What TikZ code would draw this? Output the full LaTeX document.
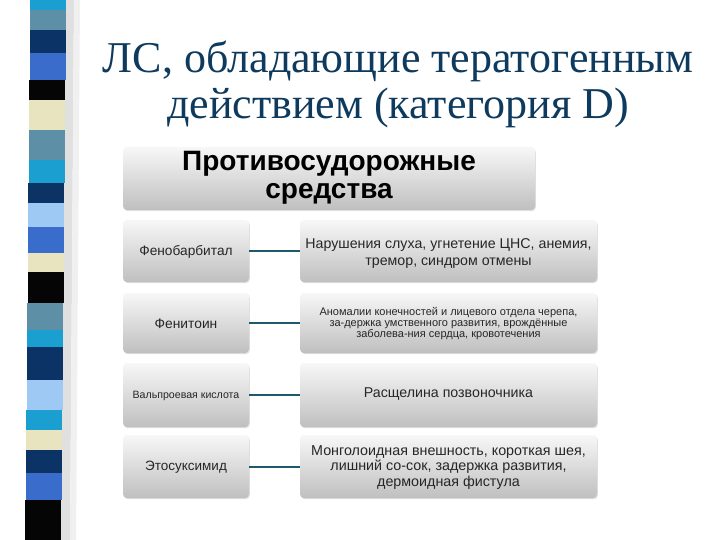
\documentclass[tikz,border=0pt]{standalone}
\usepackage{fontspec}
\setmainfont{Liberation Serif}
\newfontfamily\arialf{Liberation Sans}
\usetikzlibrary{shadows}
\definecolor{titleblue}{HTML}{0E3A5E}
\definecolor{linkteal}{HTML}{1E5A6C}
\definecolor{sCyan}{HTML}{1A9FD0}
\definecolor{sGrayBlue}{HTML}{5D8FA6}
\definecolor{sNavy}{HTML}{0B3366}
\definecolor{sRoyal}{HTML}{3A6CCC}
\definecolor{sBlack}{HTML}{050505}
\definecolor{sCream}{HTML}{E8E4C0}
\definecolor{sLight}{HTML}{9EC9F5}
\tikzset{
  gbox/.style={rounded corners=4pt, top color=black!3, bottom color=black!25, draw=none,
    drop shadow={shadow xshift=0.8pt, shadow yshift=-1.2pt, opacity=0.25}},
  link/.style={draw=linkteal, line width=2pt},
  txt/.style={align=center, font=\arialf, text=black!85, inner sep=0pt}
}
\begin{document}
\begin{tikzpicture}[x=1pt,y=-1pt]
\useasboundingbox (0,0) rectangle (720,540);
\fill[white] (0,0) rectangle (720,540);
% shadow of stripe bar
\fill[black!12] (64,0) -- (74,0) -- (70,540) -- (60,540) -- cycle;
\fill[black!6] (74,0) -- (80,0) -- (76,540) -- (70,540) -- cycle;
% stripes
\foreach \ya/\yb/\c in {0/10/sCyan, 10/30/sGrayBlue, 30/53/sNavy, 53/80/sRoyal, 80/100/sBlack,
  100/130/sCream, 130/160/sGrayBlue, 160/183/sCyan, 183/203/sNavy, 203/227/sLight,
  227/253/sRoyal, 253/272/sCream, 272/303/sBlack, 303/330/sGrayBlue, 330/347/sCyan,
  347/380/sNavy, 380/410/sLight, 410/430/sCyan, 430/450/sCream, 450/473/sNavy,
  473/500/sRoyal, 500/540/sBlack}{
  \fill[\c] ({30-\ya*0.009},\ya) rectangle ({66-\ya*0.009},\yb);
}
% title
\node[font=\fontsize{44}{46}\selectfont, text=titleblue, align=center, inner sep=0pt]
  (title) at (398,84) {ЛС, обладающие тератогенным\\действием (категория D)};
% header
\node[gbox, minimum width=412pt, minimum height=63pt, inner sep=0pt] (head) at (329,178.5) {};
\node[txt, font=\arialf\bfseries\fontsize{28}{28}\selectfont, text=black] (headt) at ([yshift=1pt]head.center)
  {Противосудорожные\\средства};
% left boxes
\node[gbox, minimum width=126pt, minimum height=62pt, inner sep=0pt] (l1) at (186,251) {};
\node[gbox, minimum width=126pt, minimum height=60pt, inner sep=0pt] (l2) at (186,323) {};
\node[gbox, minimum width=126pt, minimum height=64pt, inner sep=0pt] (l3) at (186,395) {};
\node[gbox, minimum width=126pt, minimum height=63pt, inner sep=0pt] (l4) at (186,466.5) {};
% right boxes
\node[gbox, minimum width=297pt, minimum height=62pt, inner sep=0pt] (r1) at (448.5,251) {};
\node[gbox, minimum width=297pt, minimum height=60pt, inner sep=0pt] (r2) at (448.5,323) {};
\node[gbox, minimum width=297pt, minimum height=64pt, inner sep=0pt] (r3) at (448.5,395) {};
\node[gbox, minimum width=297pt, minimum height=63pt, inner sep=0pt] (r4) at (448.5,466.5) {};
% texts
\node[txt, font=\arialf\fontsize{13.7}{16}\selectfont] (l1t) at ([yshift=-1pt]l1.center) {Фенобарбитал};
\node[txt, font=\arialf\fontsize{13.8}{16}\selectfont] (l2t) at ([yshift=-1pt]l2.center) {Фенитоин};
\node[txt, font=\arialf\fontsize{10.6}{12}\selectfont] (l3t) at ([yshift=-1pt]l3.center) {Вальпроевая кислота};
\node[txt, font=\arialf\fontsize{13.5}{16}\selectfont] (l4t) at ([yshift=-1pt]l4.center) {Этосуксимид};
\node[txt, font=\arialf\fontsize{14.2}{17}\selectfont] (r1t) at ([yshift=-3pt]r1.center)
  {Нарушения слуха, угнетение ЦНС, анемия,\\тремор, синдром отмены};
\node[txt, font=\arialf\fontsize{11}{11}\selectfont] (r2t) at ([yshift=-1pt]r2.center)
  {Аномалии конечностей и лицевого отдела черепа,\\за-держка умственного развития, врождённые\\заболева-ния сердца, кровотечения};
\node[txt, font=\arialf\fontsize{14.2}{16}\selectfont] (r3t) at ([yshift=1pt]r3.center) {Расщелина позвоночника};
\node[txt, font=\arialf\fontsize{14.3}{15.5}\selectfont] (r4t) at ([yshift=-1pt]r4.center)
  {Монголоидная внешность, короткая шея,\\лишний со-сок, задержка развития,\\дермоидная фистула};
% links
\draw[link] (l1.east) -- (r1.west);
\draw[link] (l2.east) -- (r2.west);
\draw[link] (l3.east) -- (r3.west);
\draw[link] (l4.east) -- (r4.west);
\end{tikzpicture}
\end{document}
